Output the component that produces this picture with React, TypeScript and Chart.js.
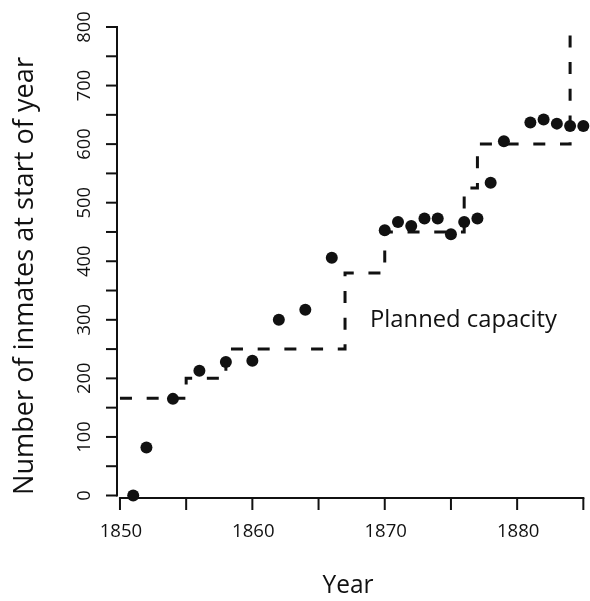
import React, { useEffect, useRef } from "react";
import { Chart, registerables } from "chart.js";

Chart.register(...registerables);

// Inmates at start of year (points)
const years = [1851, 1852, 1854, 1856, 1858, 1860, 1862, 1864, 1866, 1870, 1871, 1872, 1873, 1874, 1875, 1876, 1877, 1878, 1879, 1881, 1882, 1883, 1884, 1885];
const inmates = [0, 82, 165, 213, 228, 230, 300, 317, 406, 453, 467, 460, 473, 473, 446, 467, 473, 534, 605, 637, 642, 635, 631, 631];

// Planned capacity (step line)
const capacityYears = [1850, 1855, 1858, 1867, 1870, 1876, 1877, 1884];
const capacityValues = [166, 200, 250, 380, 450, 525, 600, 800];

// Axis ticks
const xTickValues = [1850, 1855, 1860, 1865, 1870, 1875, 1880, 1885];
const xTickLabels = ["1850", "", "1860", "", "1870", "", "1880", ""];
const yTickValues = [0, 50, 100, 150, 200, 250, 300, 350, 400, 450, 500, 550, 600, 650, 700, 750, 800];
const yTickLabels = ["0", "", "100", "", "200", "", "300", "", "400", "", "500", "", "600", "", "700", "", "800"];

const xTitle = "Year";
const yTitle = "Number of inmates at start of year";
const annotationText = "Planned capacity";
const annotationAt = { x: 1875.95, y: 288 };

const INK = "#111111";
const FONT = '"Open Sans", "Noto Sans", sans-serif';

function drawFitted(ctx: CanvasRenderingContext2D, text: string, x: number, y: number, size: number, width: number, rot: number) {
  ctx.save();
  ctx.translate(x, y);
  ctx.rotate(rot);
  ctx.font = `${size}px ${FONT}`;
  const w = ctx.measureText(text).width;
  ctx.scale(width / w, 1);
  ctx.textAlign = "center";
  ctx.textBaseline = "alphabetic";
  ctx.fillText(text, 0, 0);
  ctx.restore();
}

const axesPlugin = {
  id: "rAxes",
  afterDraw(chart: any) {
    const ctx: CanvasRenderingContext2D = chart.ctx;
    const xs = chart.scales.x;
    const ys = chart.scales.y;
    const area = chart.chartArea;
    ctx.save();
    ctx.strokeStyle = INK;
    ctx.fillStyle = INK;
    ctx.lineWidth = 2;
    ctx.lineCap = "square";

    // y axis
    const yAxisX = area.left;
    ctx.beginPath();
    ctx.moveTo(yAxisX, ys.getPixelForValue(yTickValues[0]));
    ctx.lineTo(yAxisX, ys.getPixelForValue(yTickValues[yTickValues.length - 1]));
    ctx.stroke();
    ctx.lineCap = "butt";
    yTickValues.forEach((v, i) => {
      const py = ys.getPixelForValue(v);
      ctx.beginPath();
      ctx.moveTo(yAxisX, py);
      ctx.lineTo(yAxisX - 11, py);
      ctx.stroke();
      if (yTickLabels[i]) {
        drawFitted(ctx, yTickLabels[i], yAxisX - 27, py, 19, yTickLabels[i].length * 10.5, -Math.PI / 2);
      }
    });

    // x axis
    const xAxisY = area.bottom;
    ctx.lineCap = "square";
    ctx.beginPath();
    ctx.moveTo(xs.getPixelForValue(xTickValues[0]), xAxisY);
    ctx.lineTo(xs.getPixelForValue(xTickValues[xTickValues.length - 1]), xAxisY);
    ctx.stroke();
    ctx.lineCap = "butt";
    xTickValues.forEach((v, i) => {
      const px = xs.getPixelForValue(v);
      ctx.beginPath();
      ctx.moveTo(px, xAxisY);
      ctx.lineTo(px, xAxisY + 12);
      ctx.stroke();
      if (xTickLabels[i]) {
        drawFitted(ctx, xTickLabels[i], px + 1, xAxisY + 39, 19, 42.5, 0);
      }
    });

    // titles
    drawFitted(ctx, xTitle, 348, 593, 25, 51, 0);
    drawFitted(ctx, yTitle, 33, 276, 28, 438, -Math.PI / 2);

    // annotation
    drawFitted(ctx, annotationText, xs.getPixelForValue(annotationAt.x), ys.getPixelForValue(annotationAt.y), 23, 187, 0);
    ctx.restore();
  },
};

export default function App() {
  const ref = useRef<HTMLCanvasElement | null>(null);
  useEffect(() => {
    if (!ref.current) return;
    const chart = new Chart(ref.current, {
      type: "scatter",
      data: {
        datasets: [
          {
            type: "line",
            label: "Planned capacity",
            data: capacityYears.map((x, i) => ({ x, y: capacityValues[i] })),
            borderColor: INK,
            borderWidth: 3,
            borderDash: [12, 14.7],
            stepped: "before",
            pointRadius: 0,
            fill: false,
            clip: false as any,
          },
          {
            type: "scatter",
            label: "Inmates",
            data: years.map((x, i) => ({ x, y: inmates[i] })),
            backgroundColor: INK,
            borderWidth: 0,
            pointRadius: 6,
            clip: false as any,
          },
        ],
      },
      options: {
        responsive: false,
        animation: false,
        layout: { padding: { left: 117, top: 27, right: 0, bottom: 103 } },
        plugins: { legend: { display: false }, tooltip: { enabled: false } },
        scales: {
          x: { type: "linear", display: false, min: 1849.776, max: 1885.05 },
          y: { type: "linear", display: false, min: -4.27, max: 800 },
        },
      },
      plugins: [axesPlugin],
    });
    return () => chart.destroy();
  }, []);
  return (
    <div style={{ position: "absolute", left: 0, top: 0, width: 590, height: 601, background: "#fff" }}>
      <canvas ref={ref} width={590} height={601} style={{ display: "block" }} />
    </div>
  );
}
